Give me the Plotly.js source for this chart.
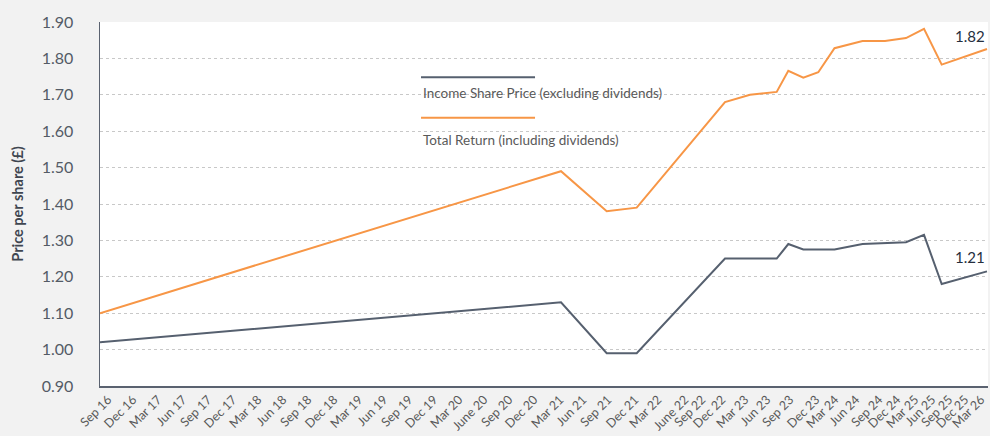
<!DOCTYPE html>
<html>
<head>
<meta charset="utf-8">
<script src="https://cdn.plot.ly/plotly-3.0.1.min.js"></script>
<style>
html,body{margin:0;padding:0;background:#f2f2f2;}
#chart{width:990px;height:436px;}
</style>
</head>
<body>
<div id="chart"></div>
<script>
// Tick labels along the x axis and where each sits on the axis (axis units)
var tickLabels = ["Sep 16","Dec 16","Mar 17","Jun 17","Sep 17","Dec 17","Mar 18","Jun 18","Sep 18","Dec 18",
  "Mar 19","Jun 19","Sep 19","Dec 19","Mar 20","June 20","Sep 20","Dec 20","Mar 21","Jun 21",
  "Sep 21","Dec 21","Mar 22","June 22","Sep 22","Dec 22","Mar 23","Jun 23","Sep 23","Dec 23",
  "Mar 24","Jun 24","Sep 24","Dec 24","Mar 25","Jun 25","Sep 25","Dec 25","Mar 26"];
var tickPos = [8,33,58,83,108,133,158,183,208,234,
  259,284,309,334,359,384,409,434,460,483,
  508,535,558,585,602,622,645,667,690,716,
  735,756,779,797,815,832,849,865,881];

// Observation points (axis position) and series values
var obsPos = [0, 461, 506.7, 536.7, 625, 650, 676.7, 688.3, 703.3, 718.3, 734.5, 762.5, 785, 806, 824, 841.7, 887];
var incomeSharePrice = [1.02, 1.13, 0.99, 0.99, 1.25, 1.25, 1.25, 1.29, 1.275, 1.275, 1.275, 1.29, 1.292, 1.295, 1.315, 1.18, 1.215];
var totalReturn      = [1.10, 1.49, 1.38, 1.39, 1.68, 1.70, 1.708, 1.766, 1.747, 1.762, 1.828, 1.848, 1.848, 1.856, 1.881, 1.783, 1.826];

var seriesNames = ["Income Share Price (excluding dividends)", "Total Return (including dividends)"];
var endLabels = ["1.21", "1.82"];
var yTicks = [0.90,1.00,1.10,1.20,1.30,1.40,1.50,1.60,1.70,1.80,1.90];

var grey = "#56606f", orange = "#f79646";
var FONT = "Lato, 'Open Sans', sans-serif";

var traces = [
  {x: obsPos, y: incomeSharePrice, name: seriesNames[0], type: "scatter", mode: "lines",
   line: {color: grey, width: 2}},
  {x: obsPos, y: totalReturn, name: seriesNames[1], type: "scatter", mode: "lines",
   line: {color: orange, width: 2}}
];

var lastI = obsPos.length - 1;
var layout = {
  width: 990, height: 436,
  margin: {l: 100, r: 2, t: 22, b: 50},
  paper_bgcolor: "#f2f2f2",
  plot_bgcolor: "#ffffff",
  showlegend: false,
  font: {family: FONT, color: "#595959"},
  xaxis: {
    type: "linear", range: [0, 888],
    tickmode: "array", tickvals: tickPos, ticktext: tickLabels,
    tickangle: -45, tickfont: {size: 12.5, color: "#595959", family: FONT},
    ticklabeloverflow: "allow",
    showgrid: false, zeroline: false,
    showline: true, linecolor: "#5a6270", linewidth: 1.5,
    ticks: ""
  },
  yaxis: {
    range: [0.90, 1.90],
    tickmode: "array", tickvals: yTicks, ticktext: yTicks.map(function(v){return v.toFixed(2);}),
    tickfont: {size: 16, color: "#545b66", family: FONT},
    ticklabelstandoff: 22,
    showgrid: true, gridcolor: "#c8c8c8", griddash: "dot", gridwidth: 1,
    zeroline: false,
    showline: true, linecolor: "#5a6270", linewidth: 1.5,
    ticks: "",
    title: {text: "<b>Price per share (£)</b>", font: {size: 14.5, color: "#3f4650", family: FONT}, standoff: 14}
  },
  shapes: [
    {type: "line", xref: "paper", yref: "paper", x0: 0.3615, x1: 0.4899, y0: 0.848, y1: 0.848,
     line: {color: grey, width: 2}},
    {type: "line", xref: "paper", yref: "paper", x0: 0.3615, x1: 0.4899, y0: 0.737, y1: 0.737,
     line: {color: orange, width: 2}}
  ],
  annotations: [
    {xref: "paper", yref: "paper", x: 0.3612, y: 0.804, xanchor: "left", yanchor: "middle",
     text: seriesNames[0], showarrow: false, font: {size: 13.5, color: "#595959", family: FONT}},
    {xref: "paper", yref: "paper", x: 0.3612, y: 0.676, xanchor: "left", yanchor: "middle",
     text: seriesNames[1], showarrow: false, font: {size: 13.5, color: "#595959", family: FONT}},
    {x: obsPos[lastI], y: totalReturn[lastI], xanchor: "right", yanchor: "middle", yshift: 13,
     text: endLabels[1], showarrow: false,
     font: {size: 15, color: "#262f3e", family: FONT}},
    {x: obsPos[lastI], y: incomeSharePrice[lastI], xanchor: "right", yanchor: "middle", yshift: 14,
     text: endLabels[0], showarrow: false,
     font: {size: 15, color: "#262f3e", family: FONT}}
  ]
};

Plotly.newPlot("chart", traces, layout, {displayModeBar: false, staticPlot: true});
</script>
</body>
</html>
